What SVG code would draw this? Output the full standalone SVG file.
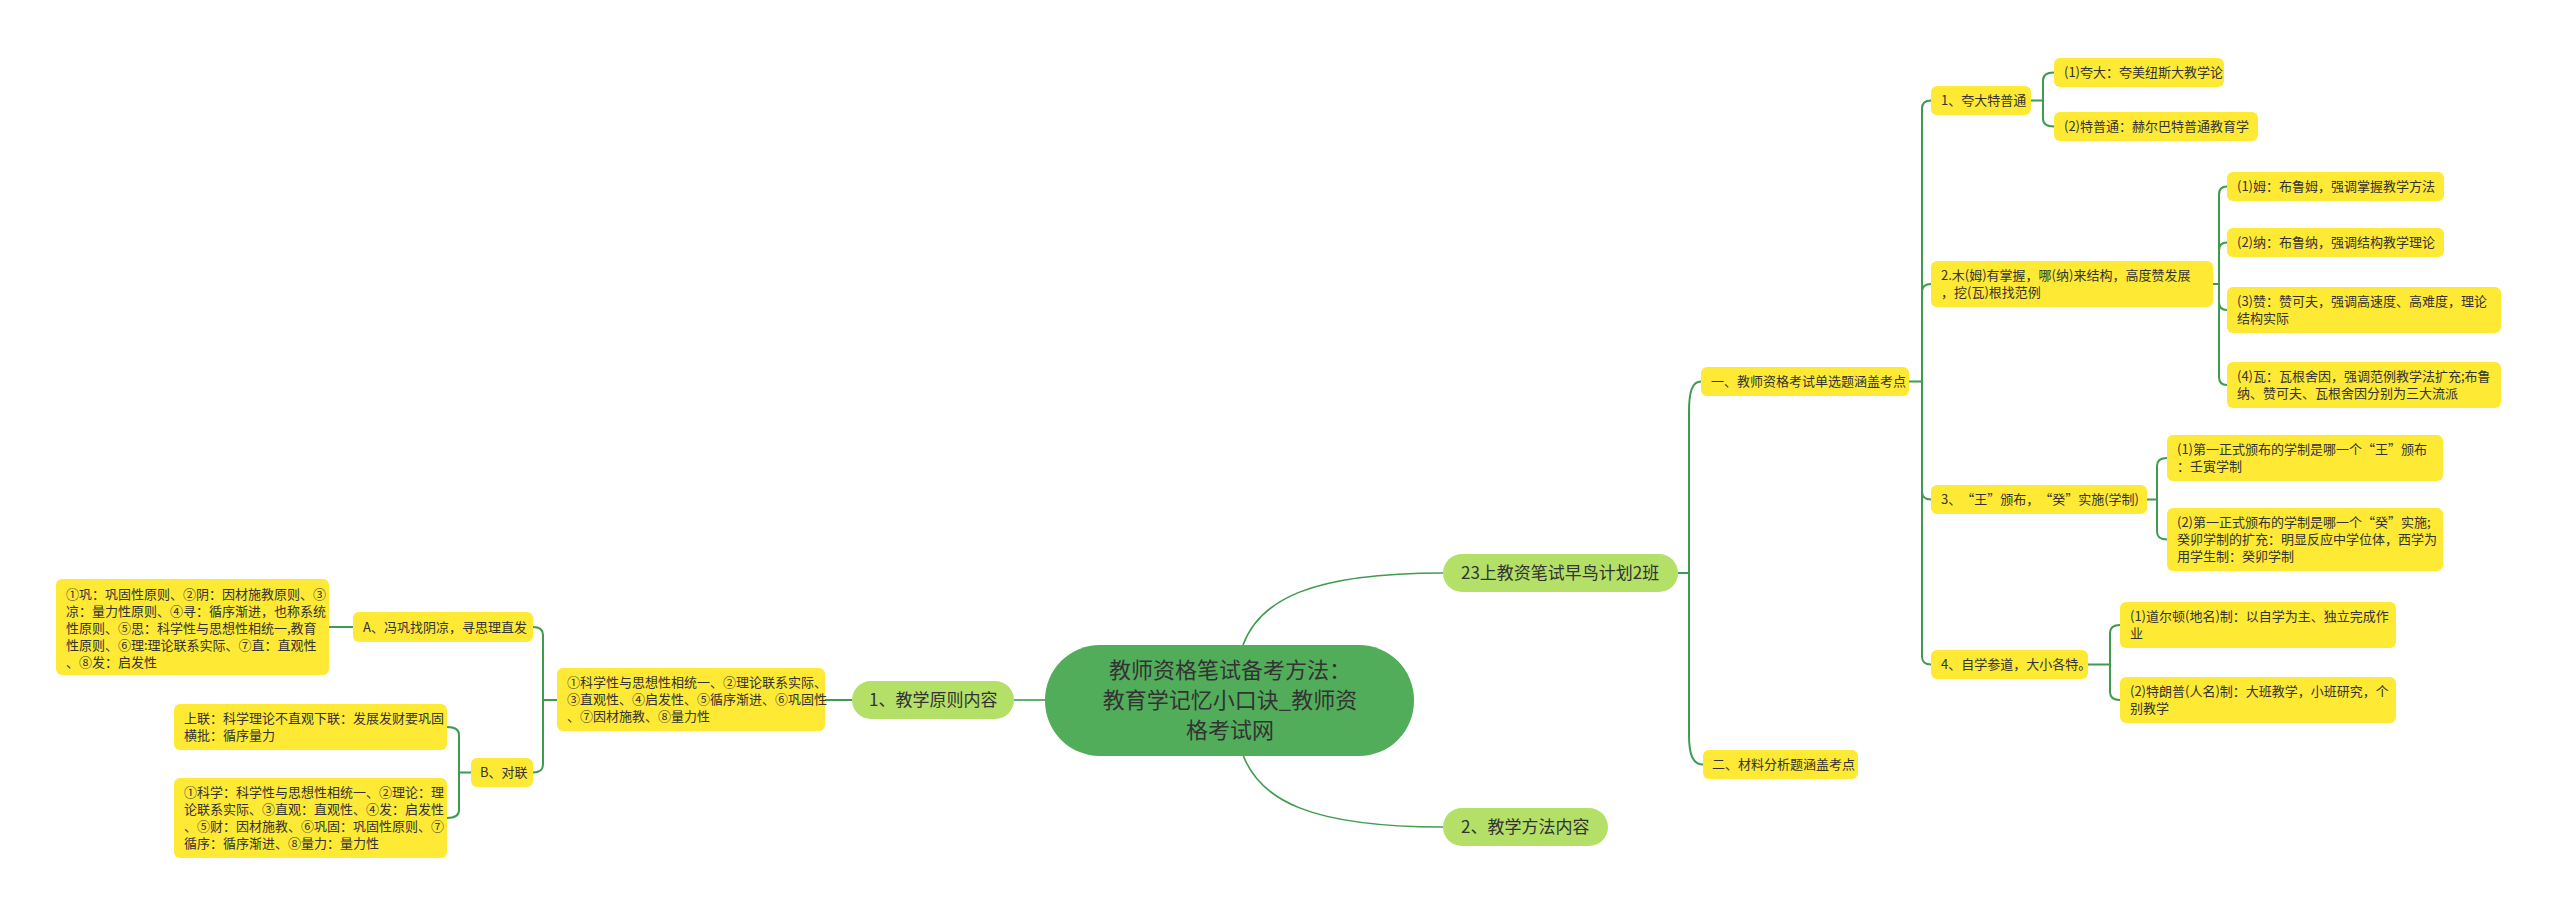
<svg xmlns="http://www.w3.org/2000/svg" width="2560" height="914" viewBox="0 0 2560 914">
<style>
.bg{fill:#ffffff}
.y{fill:#fee935}
.g{fill:#b4e068}
.c{fill:#52ad5a}
text{text-spacing-trim:space-all}
.t{font-family:"Noto Sans CJK SC","Noto Sans",sans-serif;font-size:13px;fill:#333333}
.t1{font-family:"Noto Sans CJK SC","Noto Sans",sans-serif;font-size:17px;fill:#333333}
.t0{font-family:"Noto Sans CJK SC","Noto Sans",sans-serif;font-size:22px;fill:#333333;text-anchor:middle}
.ln{fill:none;stroke:#3f9b4f;stroke-width:2}
.ln1{fill:none;stroke:#3f9b4f;stroke-width:1.6}
</style>
<rect class="bg" x="0" y="0" width="2560" height="914"/>
<g id="connectors">
  <path class="ln1" d="M1243,645 C1260,600 1310,573 1443,573"/>
  <path class="ln1" d="M1243,755 C1260,800 1310,827 1443,827"/>
  <path class="ln1" d="M1045,700 H1014"/>
  <path class="ln" d="M1678,573 H1689 V412 C1689,392 1692,381.5 1701,381.5"/>
  <path class="ln" d="M1689,573 V735 C1689,755 1693,764.5 1703,764.5"/>
  <path class="ln" d="M1909,381.5 H1922 V108.5 Q1922,100.5 1931,100.5"/>
  <path class="ln" d="M1922,381.5 V292 Q1922,284 1931,284"/>
  <path class="ln" d="M1922,381.5 V491.5 Q1922,499.5 1931,499.5"/>
  <path class="ln" d="M1922,381.5 V656.5 Q1922,664.5 1931,664.5"/>
  <path class="ln" d="M2031,100.5 H2043 V80.5 Q2043,72.5 2054,72.5"/>
  <path class="ln" d="M2043,100.5 V118.5 Q2043,126.5 2054,126.5"/>
  <path class="ln" d="M2213,284 H2219 V194.5 Q2219,186.5 2227,186.5"/>
  <path class="ln" d="M2219,284 V250.5 Q2219,242.5 2227,242.5"/>
  <path class="ln" d="M2219,284 V302 Q2219,310 2227,310"/>
  <path class="ln" d="M2219,284 V377 Q2219,385 2227,385"/>
  <path class="ln" d="M2147,499.5 H2157 V466 Q2157,458 2167,458"/>
  <path class="ln" d="M2157,499.5 V531.5 Q2157,539.5 2167,539.5"/>
  <path class="ln" d="M2088,664.5 H2110 V633 Q2110,625 2120,625"/>
  <path class="ln" d="M2110,664.5 V692 Q2110,700 2120,700"/>
  <path class="ln" d="M852,700 H825"/>
  <path class="ln" d="M557,700 H543 V635 Q543,627 533,627"/>
  <path class="ln" d="M543,700 V764.5 Q543,772.5 533,772.5"/>
  <path class="ln" d="M353,627 H329"/>
  <path class="ln" d="M471,772.5 H459 V735 Q459,727 447,727"/>
  <path class="ln" d="M459,772.5 V810 Q459,818 447,818"/>
</g>
<g id="root">
  <rect class="c" x="1045" y="645" width="369" height="111" rx="55" ry="55"/>
  <text class="t0" x="1230" y="678">教师资格笔试备考方法：</text>
  <text class="t0" x="1230" y="708">教育学记忆小口诀_教师资</text>
  <text class="t0" x="1230" y="738">格考试网</text>
</g>
<g id="n23">
  <rect class="g" x="1443" y="554" width="235" height="38" rx="19"/>
  <text class="t1" x="1461" y="579">23上教资笔试早鸟计划2班</text>
</g>
<g id="n2m">
  <rect class="g" x="1443" y="808" width="165" height="38" rx="19"/>
  <text class="t1" x="1461" y="833">2、教学方法内容</text>
</g>
<g id="n1p">
  <rect class="g" x="852" y="681" width="162" height="38" rx="19"/>
  <text class="t1" x="869" y="706">1、教学原则内容</text>
</g>
<g id="k1">
  <rect class="y" x="1701" y="367" width="208" height="29" rx="6"/>
  <text class="t" x="1711" y="386">一、教师资格考试单选题涵盖考点</text>
</g>
<g id="k2">
  <rect class="y" x="1703" y="750" width="155" height="29" rx="6"/>
  <text class="t" x="1712" y="769">二、材料分析题涵盖考点</text>
</g>
<g id="a1">
  <rect class="y" x="1931" y="86" width="100" height="29" rx="6"/>
  <text class="t" x="1941" y="105">1、夸大特普通</text>
</g>
<g id="b1">
  <rect class="y" x="2054" y="58" width="170" height="29" rx="6"/>
  <text class="t" x="2064" y="77">(1)夸大：夸美纽斯大教学论</text>
</g>
<g id="b2">
  <rect class="y" x="2054" y="112" width="204" height="29" rx="6"/>
  <text class="t" x="2064" y="131">(2)特普通：赫尔巴特普通教育学</text>
</g>
<g id="a2">
  <rect class="y" x="1931" y="261" width="282" height="46" rx="6"/>
  <text class="t" x="1941" y="280">2.木(姆)有掌握，哪(纳)来结构，高度赞发展</text>
  <text class="t" x="1941" y="297">，挖(瓦)根找范例</text>
</g>
<g id="c1">
  <rect class="y" x="2227" y="172" width="217" height="29" rx="6"/>
  <text class="t" x="2237" y="191">(1)姆：布鲁姆，强调掌握教学方法</text>
</g>
<g id="c2">
  <rect class="y" x="2227" y="228" width="217" height="29" rx="6"/>
  <text class="t" x="2237" y="247">(2)纳：布鲁纳，强调结构教学理论</text>
</g>
<g id="c3">
  <rect class="y" x="2227" y="287" width="274" height="46" rx="6"/>
  <text class="t" x="2237" y="306">(3)赞：赞可夫，强调高速度、高难度，理论</text>
  <text class="t" x="2237" y="323">结构实际</text>
</g>
<g id="c4">
  <rect class="y" x="2227" y="362" width="274" height="46" rx="6"/>
  <text class="t" x="2237" y="381">(4)瓦：瓦根舍因，强调范例教学法扩充;布鲁</text>
  <text class="t" x="2237" y="398">纳、赞可夫、瓦根舍因分别为三大流派</text>
</g>
<g id="a3">
  <rect class="y" x="1931" y="485" width="216" height="29" rx="6"/>
  <text class="t" x="1941" y="504">3、“王”颁布，“癸”实施(学制)</text>
</g>
<g id="d1">
  <rect class="y" x="2167" y="435" width="276" height="46" rx="6"/>
  <text class="t" x="2177" y="454">(1)第一正式颁布的学制是哪一个“王”颁布</text>
  <text class="t" x="2177" y="471">：壬寅学制</text>
</g>
<g id="d2">
  <rect class="y" x="2167" y="508" width="276" height="63" rx="6"/>
  <text class="t" x="2177" y="527">(2)第一正式颁布的学制是哪一个“癸”实施;</text>
  <text class="t" x="2177" y="544">癸卯学制的扩充：明显反应中学位体，西学为</text>
  <text class="t" x="2177" y="561">用学生制：癸卯学制</text>
</g>
<g id="a4">
  <rect class="y" x="1931" y="650" width="157" height="29" rx="6"/>
  <text class="t" x="1941" y="669">4、自学参道，大小各特。</text>
</g>
<g id="e1">
  <rect class="y" x="2120" y="602" width="276" height="46" rx="6"/>
  <text class="t" x="2130" y="621">(1)道尔顿(地名)制：以自学为主、独立完成作</text>
  <text class="t" x="2130" y="638">业</text>
</g>
<g id="e2">
  <rect class="y" x="2120" y="677" width="276" height="46" rx="6"/>
  <text class="t" x="2130" y="696">(2)特朗普(人名)制：大班教学，小班研究，个</text>
  <text class="t" x="2130" y="713">别教学</text>
</g>
<g id="p1">
  <rect class="y" x="557" y="668" width="268" height="63" rx="6"/>
  <text class="t" x="567" y="687">①科学性与思想性相统一、②理论联系实际、</text>
  <text class="t" x="567" y="704">③直观性、④启发性、⑤循序渐进、⑥巩固性</text>
  <text class="t" x="567" y="721">、⑦因材施教、⑧量力性</text>
</g>
<g id="pa">
  <rect class="y" x="353" y="612" width="180" height="30" rx="6"/>
  <text class="t" x="363" y="632">A、冯巩找阴凉，寻思理直发</text>
</g>
<g id="pb">
  <rect class="y" x="471" y="758" width="62" height="29" rx="6"/>
  <text class="t" x="480" y="777">B、对联</text>
</g>
<g id="q1">
  <rect class="y" x="56" y="579" width="273" height="96" rx="6"/>
  <text class="t" x="66" y="599">①巩：巩固性原则、②阴：因材施教原则、③</text>
  <text class="t" x="66" y="616">凉：量力性原则、④寻：循序渐进，也称系统</text>
  <text class="t" x="66" y="633">性原则、⑤思：科学性与思想性相统一,教育</text>
  <text class="t" x="66" y="650">性原则、⑥理:理论联系实际、⑦直：直观性</text>
  <text class="t" x="66" y="667">、⑧发：启发性</text>
</g>
<g id="r1">
  <rect class="y" x="174" y="704" width="273" height="46" rx="6"/>
  <text class="t" x="184" y="723">上联：科学理论不直观下联：发展发财要巩固</text>
  <text class="t" x="184" y="740">横批：循序量力</text>
</g>
<g id="r2">
  <rect class="y" x="174" y="778" width="273" height="80" rx="6"/>
  <text class="t" x="184" y="797">①科学：科学性与思想性相统一、②理论：理</text>
  <text class="t" x="184" y="814">论联系实际、③直观：直观性、④发：启发性</text>
  <text class="t" x="184" y="831">、⑤财：因材施教、⑥巩固：巩固性原则、⑦</text>
  <text class="t" x="184" y="848">循序：循序渐进、⑧量力：量力性</text>
</g>
</svg>
